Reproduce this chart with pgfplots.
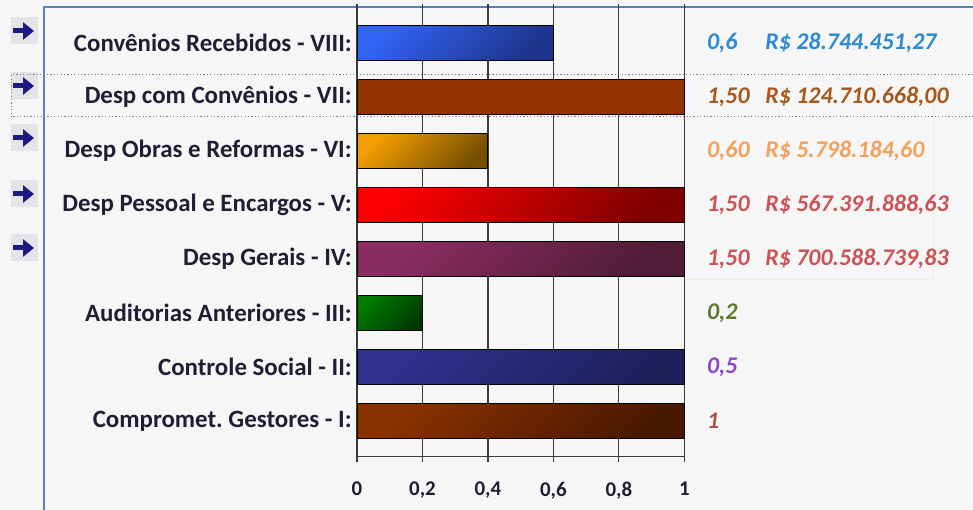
\documentclass[border=0pt]{standalone}
\usepackage{pgfplots}
\pgfplotsset{compat=1.18}
\usepackage{fontspec}
\setmainfont{Carlito}
\usetikzlibrary{arrows.meta}
\definecolor{bg}{HTML}{F6F6F6}
\definecolor{panel}{HTML}{5B7FB8}
\definecolor{boxgray}{HTML}{E4E4E8}
\definecolor{arrowc}{HTML}{1A1A80}
\definecolor{gridc}{HTML}{3A3A3A}
\definecolor{labc}{HTML}{1E1E34}
\definecolor{faint}{HTML}{EFEFDF}
\definecolor{v8}{HTML}{2B8AD2}
\definecolor{v7}{HTML}{A8581A}
\definecolor{v6}{HTML}{F2A05A}
\definecolor{v5}{HTML}{CC5256}
\definecolor{v3}{HTML}{5E7A30}
\definecolor{v2}{HTML}{8A48C8}
\definecolor{v1}{HTML}{B0504A}
\definecolor{b8a}{RGB}{50,100,245}\definecolor{b8b}{RGB}{30,52,140}
\definecolor{b7}{RGB}{146,50,0}
\definecolor{b6a}{RGB}{245,158,0}\definecolor{b6b}{RGB}{118,80,0}
\definecolor{b5a}{RGB}{250,0,0}\definecolor{b5b}{RGB}{128,0,0}
\definecolor{b4a}{RGB}{140,45,98}\definecolor{b4b}{RGB}{80,28,54}
\definecolor{b3a}{RGB}{0,126,0}\definecolor{b3b}{RGB}{0,56,0}
\definecolor{b2a}{RGB}{46,49,142}\definecolor{b2b}{RGB}{30,32,92}
\definecolor{b1a}{RGB}{138,50,0}\definecolor{b1b}{RGB}{74,24,0}
\begin{document}
\frenchspacing
\begin{tikzpicture}[x=1bp,y=1bp]
\path[use as bounding box, fill=bg] (0,0) rectangle (973,510);
\draw[panel, line width=2bp] (44,0) -- (44,503) -- (973,503);
\foreach \yy in {31,86,138,194,248} {
  \fill[boxgray] (11,{510-\yy-13.5}) rectangle (38,{510-\yy+13.5});
  \draw[arrowc, line width=5bp, -{Triangle[length=11bp,width=17bp]}] (13,{510-\yy}) -- (34,{510-\yy});
}
\draw[gray, line width=1bp, dash pattern=on 1.2bp off 2.2bp] (990,{510-75}) -- (11,{510-75}) -- (11,{510-117}) -- (990,{510-117});
\draw[faint, line width=1bp] (687,{510-280}) -- (933,{510-280}) -- (933,{510-77});
\begin{axis}[
  at={(357bp,53.3bp)}, anchor=south west,
  scale only axis, width=327.3bp, height=452.7bp,
  xmin=0, xmax=1, ymin=0.336, ymax=8.72,
  axis x line*=bottom, axis y line*=left,
  axis line style={draw=gridc, line width=1.3bp},
  xtick={0,0.2,0.4,0.6,0.8,1},
  xticklabels={0,{0,2},{0,4},{0,6},{0,8},1},
  xtick align=outside,
  major tick length=5bp,
  xtick style={draw=gridc, line width=1.3bp},
  ytick={1,2,3,4,5,6,7,8},
  yticklabels={Compromet. Gestores - I:, Controle Social - II:, Auditorias Anteriores - III:, Desp Gerais - IV:, Desp Pessoal e Encargos - V:, Desp Obras e Reformas - VI:, Desp com Convênios - VII:, Convênios Recebidos - VIII:},
  ytick style={draw=none},
  xmajorgrids,
  grid style={draw=gridc, line width=1.3bp},
  xticklabel style={font=\fontsize{21}{25}\selectfont\bfseries, text=labc, inner sep=0pt, anchor=north, yshift=-20bp},
  yticklabel style={font=\fontsize{25}{30}\selectfont\bfseries, text=labc, inner sep=0pt, anchor=east, xshift=0bp},
  clip=false,
  xbar, bar width=35bp,
]
\pgfplotsset{gb/.style 2 args={xbar, bar shift=0pt, draw=black, line width=0.9bp, left color=#1, right color=#2, shading angle=45}}
\addplot[gb={b8a}{b8b}] coordinates {(0.6,8)};
\addplot[xbar, bar shift=0pt, draw=black, line width=0.9bp, fill=b7] coordinates {(1,7)};
\addplot[gb={b6a}{b6b}] coordinates {(0.4,6)};
\addplot[gb={b5a}{b5b}] coordinates {(1,5)};
\addplot[gb={b4a}{b4b}] coordinates {(1,4)};
\addplot[gb={b3a}{b3b}] coordinates {(0.2,3)};
\addplot[gb={b2a}{b2b}] coordinates {(1,2)};
\addplot[gb={b1a}{b1b}] coordinates {(1,1)};
\tikzset{vl/.style={anchor=west, inner sep=0pt, font=\fontsize{24}{28}\selectfont\bfseries\itshape}}
\node[vl, text=v8] at (axis cs:1.069,8) {0,6};
\node[vl, text=v8] at (axis cs:1.247,8) {R\$ 28.744.451,27};
\node[vl, text=v7] at (axis cs:1.069,7) {1,50};
\node[vl, text=v7] at (axis cs:1.247,7) {R\$ 124.710.668,00};
\node[vl, text=v6] at (axis cs:1.069,6) {0,60};
\node[vl, text=v6] at (axis cs:1.247,6) {R\$ 5.798.184,60};
\node[vl, text=v5] at (axis cs:1.069,5) {1,50};
\node[vl, text=v5] at (axis cs:1.247,5) {R\$ 567.391.888,63};
\node[vl, text=v5] at (axis cs:1.069,4) {1,50};
\node[vl, text=v5] at (axis cs:1.247,4) {R\$ 700.588.739,83};
\node[vl, text=v3] at (axis cs:1.069,3) {0,2};
\node[vl, text=v2] at (axis cs:1.069,2) {0,5};
\node[vl, text=v1] at (axis cs:1.069,1) {1};
\end{axis}
\end{tikzpicture}
\end{document}
